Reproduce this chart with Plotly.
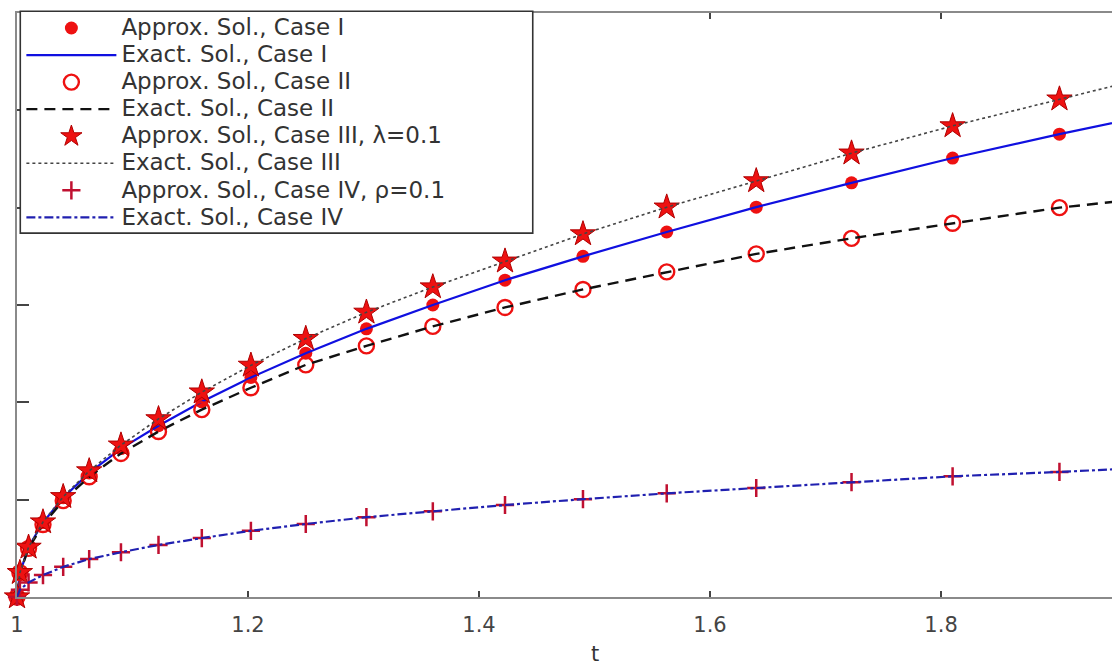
import plotly.graph_objects as go

# ---- data ----
t = [1.0, 1.0025, 1.01, 1.0225, 1.04, 1.0625, 1.09, 1.1225, 1.16, 1.2025, 1.25,
     1.3025, 1.36, 1.4225, 1.49, 1.5625, 1.64, 1.7225, 1.81, 1.9025, 2.0]

case1 = [0.0, 0.049, 0.103, 0.153, 0.204, 0.255, 0.305, 0.352, 0.401, 0.451, 0.501,
         0.551, 0.600, 0.651, 0.700, 0.750, 0.801, 0.851, 0.902, 0.951, 1.0]
case2 = [0.0, 0.050, 0.100, 0.149, 0.198, 0.247, 0.295, 0.340, 0.385, 0.430, 0.477,
         0.516, 0.556, 0.595, 0.632, 0.668, 0.705, 0.737, 0.768, 0.800, 0.825]
case3 = [0.0, 0.050, 0.102, 0.154, 0.206, 0.259, 0.312, 0.366, 0.421, 0.476, 0.531,
         0.585, 0.637, 0.690, 0.746, 0.801, 0.855, 0.912, 0.968, 1.023, 1.08]
case4 = [0.0, 0.015, 0.030, 0.045, 0.062, 0.078, 0.092, 0.107, 0.121, 0.136, 0.150,
         0.164, 0.176, 0.189, 0.201, 0.213, 0.224, 0.236, 0.248, 0.257, 0.268]

x_tickvals = [1, 1.2, 1.4, 1.6, 1.8]
x_ticktext = ["1", "1.2", "1.4", "1.6", "1.8"]
y_tickvals = [0.2, 0.4, 0.6, 0.8, 1.0]

names = [
    "Approx. Sol., Case I",
    "Exact. Sol., Case I",
    "Approx. Sol., Case II",
    "Exact. Sol., Case II",
    "Approx. Sol., Case III, \u03bb=0.1",
    "Exact. Sol., Case III",
    "Approx. Sol., Case IV, \u03c1=0.1",
    "Exact. Sol., Case IV",
]

FONT = "DejaVu Sans"
RED = "#ee1111"


def lab(s):
    return '<span style="font-size:23px">' + s + "</span>"


fig = go.Figure()

fig.add_trace(go.Scatter(x=t, y=case1, mode="markers", name=lab(names[0]),
                         marker=dict(symbol="circle", size=13, color=RED),
                         cliponaxis=False))
fig.add_trace(go.Scatter(x=t, y=case1, mode="lines", name=lab(names[1]),
                         line=dict(color="#1010e0", width=2.2)))
fig.add_trace(go.Scatter(x=t, y=case2, mode="markers", name=lab(names[2]),
                         marker=dict(symbol="circle-open", size=15, color=RED,
                                     line=dict(width=2.4, color=RED)),
                         cliponaxis=False))
fig.add_trace(go.Scatter(x=t, y=case2, mode="lines", name=lab(names[3]),
                         line=dict(color="#111111", width=2.4, dash="11px,7px")))
fig.add_trace(go.Scatter(x=t, y=case3, mode="markers", name=lab(names[4]),
                         marker=dict(symbol="star", size=19, color=RED,
                                     line=dict(width=1, color="#b00000")),
                         cliponaxis=False))
fig.add_trace(go.Scatter(x=t, y=case3, mode="lines", name=lab(names[5]),
                         line=dict(color="#444444", width=1.6, dash="dot")))
fig.add_trace(go.Scatter(x=t, y=case4, mode="markers", name=lab(names[6]),
                         marker=dict(symbol="cross-thin", size=13, color=RED,
                                     line=dict(width=2.5, color="#c01030")),
                         cliponaxis=False))
fig.add_trace(go.Scatter(x=t, y=case4, mode="lines", name=lab(names[7]),
                         line=dict(color="#2020b0", width=2.2, dash="dashdot")))

fig.update_layout(
    width=1112, height=666,
    margin=dict(l=17, r=0, t=13, b=69),
    paper_bgcolor="white", plot_bgcolor="white",
    font=dict(family=FONT, color="#333333"),
    showlegend=True,
    legend=dict(
        x=0.004, y=1.006, xanchor="left", yanchor="top",
        bgcolor="rgba(0,0,0,0)", borderwidth=0,
        font=dict(family=FONT, size=18.5, color="#333333"),
        itemwidth=90, tracegroupgap=0,
    ),
    shapes=[dict(type="rect", xref="paper", yref="paper",
                 x0=0.003, x1=0.471, y0=0.623, y1=1.003,
                 line=dict(color="#333333", width=1.6),
                 fillcolor="white", layer="above")],
    annotations=[dict(text="t", x=1.5, xref="x", y=-0.0976, yref="paper",
                      showarrow=False, xanchor="center", yanchor="middle",
                      font=dict(family=FONT, size=21, color="#333333"))],
)

fig.update_xaxes(
    range=[1, 1.948], tickvals=x_tickvals, ticktext=x_ticktext,
    ticks="inside", ticklen=6, tickwidth=1.5, tickcolor="#444444",
    showline=True, linecolor="#8a8a8a", linewidth=2, mirror="ticks",
    showgrid=False, zeroline=False, ticklabelstandoff=8,
    tickfont=dict(family=FONT, size=21, color="#444444"),
)
fig.update_yaxes(
    range=[0, 1.2], tickvals=y_tickvals,
    ticks="inside", ticklen=12, tickwidth=1.5, tickcolor="#444444",
    showline=True, linecolor="#8a8a8a", linewidth=2, mirror=False,
    showgrid=False, zeroline=False, showticklabels=False,
)

fig.write_html(
    "out.html",
    config={"displayModeBar": False},
    post_script="document.body.style.margin='0';document.body.style.overflow='hidden';",
)
